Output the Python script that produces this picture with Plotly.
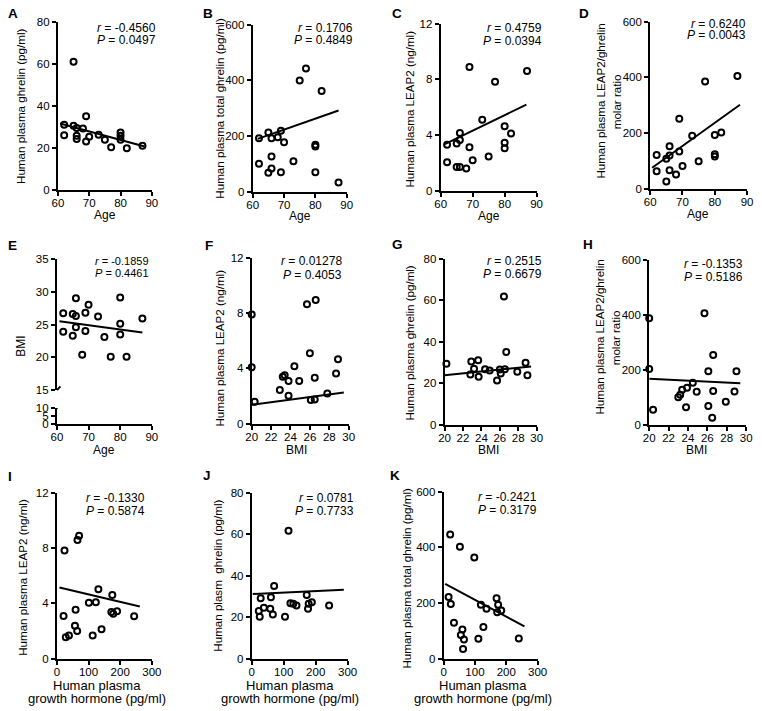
import plotly.graph_objects as go

# ---------------- data ----------------
# A: Age vs plasma ghrelin
age_A = [65, 62, 62, 65, 66, 66, 66, 68, 69, 69, 70, 73, 75, 77, 80, 80, 80, 82, 87]
ghrelin_A = [61, 31, 26, 30.5, 29.4, 25.8, 24.2, 29.2, 35, 23, 25.3, 26.2, 23.8, 20.3, 27.3, 25.8, 23.8, 19.8, 21]
fit_A_x = [60.7, 87.7]
fit_A_y = [31.6, 20.6]

# B: Age vs total ghrelin
age_B = [62, 62, 65, 65, 66, 66, 66, 68, 69, 69, 70, 73, 75, 77, 80, 80, 80, 82, 87.4]
total_B = [192, 101, 213, 68, 192, 127, 84, 196, 219, 70, 178, 110, 400, 443, 169, 163, 70, 362, 33]
fit_B_x = [61.6, 87.4]
fit_B_y = [190, 292]

# C: Age vs LEAP2
age_C = [62, 62, 65, 65, 66, 66, 66, 68, 69, 69, 70, 73, 75, 77, 80, 80, 80, 82, 87]
leap2_C = [3.3, 2.05, 3.4, 1.72, 3.65, 4.16, 1.72, 1.6, 8.9, 3.13, 2.19, 5.1, 2.47, 7.84, 4.64, 3.46, 3.06, 4.12, 8.6]
fit_C_x = [61.3, 86.8]
fit_C_y = [3.36, 6.19]

# D: Age vs LEAP2/ghrelin ratio
age_D = [62, 62, 65, 65, 66, 66, 66, 68, 69, 69, 70, 73, 75, 77, 80, 80, 80, 82, 87]
ratio_D = [122, 63, 26, 108, 120, 153, 67, 52, 252, 134, 82, 191, 99, 385, 193, 124, 116, 202, 405]
fit_D_x = [60.6, 87.8]
fit_D_y = [76, 302]

# E: Age vs BMI
age_E = [62, 62, 65, 65, 66, 66, 66, 68, 69, 69, 70, 73, 75, 77, 80, 80, 80, 82, 87]
bmi_E = [26.7, 23.9, 26.6, 23.3, 29, 26.3, 24.6, 20.4, 26.8, 24, 28, 26.2, 23.1, 20.1, 29.1, 25.1, 23.5, 20.1, 25.9]
fit_E_x = [60.8, 87]
fit_E_y = [25.5, 23.8]

# F: BMI vs LEAP2
bmi_F = [20.0, 20.0, 20.3, 22.9, 23.2, 23.4, 23.8, 23.8, 24.4, 24.9, 25.7, 26.0, 26.1, 26.5, 26.6, 26.5, 27.8, 28.7, 28.9]
leap2_F = [7.9, 4.08, 1.6, 2.45, 3.4, 3.5, 2.03, 3.09, 4.15, 3.09, 8.63, 5.1, 1.72, 1.75, 8.94, 3.33, 2.19, 3.63, 4.67]
fit_F_x = [20, 29.5]
fit_F_y = [1.37, 2.26]

# G: BMI vs ghrelin
bmi_G = [19.8, 20.2, 22.9, 22.8, 23.2, 23.65, 23.7, 24.4, 24.9, 25.7, 26.0, 26.1, 26.45, 26.55, 26.7, 27.9, 28.8, 29.0]
ghrelin_G = [20, 29.4, 30.5, 24.2, 27, 31.1, 23.1, 26.7, 26.1, 21.3, 26.6, 24.7, 61.8, 26.7, 35.1, 25.5, 29.9, 23.9]
fit_G_x = [20, 29.4]
fit_G_y = [23.9, 28.1]

# H: BMI vs LEAP2/ghrelin ratio
bmi_H = [20, 20, 20.4, 23.0, 23.2, 23.4, 23.8, 23.9, 24.5, 24.9, 25.7, 26.1, 26.1, 26.5, 26.6, 26.6, 27.9, 28.8, 29.0]
ratio_H = [387, 203, 55, 100, 109, 127, 64, 135, 153, 120, 405, 195, 68, 26, 123, 254, 84, 121, 195]
fit_H_x = [20, 29.4]
fit_H_y = [167, 150.6]

# I: growth hormone vs LEAP2
gh_I = [24, 21, 28, 38, 59, 57, 64, 65, 70, 101, 123, 131, 113, 141, 175, 172, 178, 190, 244]
leap2_I = [7.82, 3.09, 1.56, 1.68, 3.54, 2.39, 2.0, 8.58, 8.88, 4.04, 4.09, 5.03, 1.68, 2.13, 4.6, 3.38, 3.26, 3.43, 3.07]
fit_I_x = [8, 262]
fit_I_y = [5.15, 3.78]

# J: growth hormone vs ghrelin
gh_J = [22, 25, 28, 38, 58, 60, 66, 70, 104, 115, 121, 130, 140, 172, 176, 178, 188, 242]
ghrelin_J = [23, 20.2, 29.1, 24.6, 24.1, 29.6, 21.3, 35.1, 20.2, 61.6, 26.8, 26.5, 25.7, 30.7, 24.1, 26.5, 27.2, 25.7]
fit_J_x = [3, 288]
fit_J_y = [31.2, 33.2]

# K: growth hormone vs total ghrelin
gh_K = [21, 52, 98, 16, 23, 33, 60, 55, 65, 62, 111, 127, 119, 137, 169, 174, 171, 184, 240]
total_K = [446, 402, 364, 222, 197, 129, 105, 85, 69, 35, 72, 114, 194, 180, 217, 194, 167, 173, 73]
fit_K_x = [5, 258]
fit_K_y = [269, 116.5]

stats_r = ["-0.4560", "0.1706", "0.4759", "0.6240", "-0.1859", "0.01278", "0.2515", "-0.1353", "-0.1330", "0.0781", "-0.2421"]
stats_p = ["0.0497", "0.4849", "0.0394", "0.0043", "0.4461", "0.4053", "0.6679", "0.5186", "0.5874", "0.7733", "0.3179"]
letters = ["A", "B", "C", "D", "E", "F", "G", "H", "I", "J", "K"]

age_ticks = [60, 70, 80, 90]
bmi_ticks = [20, 22, 24, 26, 28, 30]
gh_ticks = [0, 100, 200, 300]

# ---------------- layout helpers ----------------
W, H = 762, 711
FONT = "Liberation Sans, Arial, sans-serif"


def px(x):
    return x / W


def py(y):
    return 1 - y / H


panels = [
    dict(x=age_A, y=ghrelin_A, fx=fit_A_x, fy=fit_A_y, xr=[60, 90], xt=age_ticks, yr=[0, 80], yt=[0, 20, 40, 60, 80],
         box=(53, 149, 16, 187), xtitle=["Age"], xtpos=(101, [213]), ytitle=["Human plasma ghrelin (pg/ml)"],
         ytpos=([15], 102), stat=(155, 22, 35, 12), letter=(7, 8)),
    dict(x=age_B, y=total_B, fx=fit_B_x, fy=fit_B_y, xr=[60, 90], xt=age_ticks, yr=[0, 600], yt=[0, 200, 400, 600],
         box=(252, 348, 19, 189), xtitle=["Age"], xtpos=(300, [214]), ytitle=["Human plasma total ghrelin (pg/ml)"],
         ytpos=([218], 104), stat=(356, 22, 35, 12), letter=(206, 8)),
    dict(x=age_C, y=leap2_C, fx=fit_C_x, fy=fit_C_y, xr=[60, 90], xt=age_ticks, yr=[0, 12], yt=[0, 4, 8, 12],
         box=(444, 542, 18, 188), xtitle=["Age"], xtpos=(493, [214]), ytitle=["Human plasma LEAP2 (ng/ml)"],
         ytpos=([412], 105), stat=(550, 22, 36, 12), letter=(399, 8)),
    dict(x=age_D, y=ratio_D, fx=fit_D_x, fy=fit_D_y, xr=[60, 90], xt=age_ticks, yr=[0, 600], yt=[0, 200, 400, 600],
         box=(658, 757, 16, 186), xtitle=["Age"], xtpos=(707, [212]),
         ytitle=["Human plasma LEAP2/ghrelin", "molar ratio"], ytpos=([607, 623], 97), stat=(758, 18, 30, 12),
         letter=(590, 8)),
    dict(x=age_E, y=bmi_E, fx=fit_E_x, fy=fit_E_y, xr=[60, 90], xt=age_ticks, yr=[15, 35], yt=[15, 20, 25, 30, 35],
         box=(52, 149, 257, 391), xtitle=["Age"], xtpos=(100, [452]), ytitle=["BMI"],
         ytpos=([15], 346), stat=(148, 259, 272, 11), letter=(7, 244)),
    dict(x=bmi_F, y=leap2_F, fx=fit_F_x, fy=fit_F_y, xr=[20, 30], xt=bmi_ticks, yr=[0, 12], yt=[0, 4, 8, 12],
         box=(251, 350, 256, 425), xtitle=["BMI"], xtpos=(297, [452]), ytitle=["Human plasma LEAP2 (ng/ml)"],
         ytpos=([218], 348), stat=(345, 259, 274, 12), letter=(207, 244)),
    dict(x=bmi_G, y=ghrelin_G, fx=fit_G_x, fy=fit_G_y, xr=[20, 30], xt=bmi_ticks, yr=[0, 80], yt=[0, 20, 40, 60, 80],
         box=(448, 542, 257, 426), xtitle=["BMI"], xtpos=(493, [452]), ytitle=["Human plasma ghrelin (pg/ml)"],
         ytpos=([412], 343), stat=(550, 259, 273, 12), letter=(400, 243)),
    dict(x=bmi_H, y=ratio_H, fx=fit_H_x, fy=fit_H_y, xr=[20, 30], xt=bmi_ticks, yr=[0, 600], yt=[0, 200, 400, 600],
         box=(657, 756, 258, 426), xtitle=["BMI"], xtpos=(705, [452]),
         ytitle=["Human plasma LEAP2/ghrelin", "molar ratio"], ytpos=([606, 622], 337), stat=(755, 262, 276, 12),
         letter=(594, 243)),
    dict(x=gh_I, y=leap2_I, fx=fit_I_x, fy=fit_I_y, xr=[0, 300], xt=gh_ticks, yr=[0, 12], yt=[0, 4, 8, 12],
         box=(52, 149, 495, 664), xtitle=["Human plasma", "growth hormone (pg/ml)"], xtpos=(93, [691, 704]),
         ytitle=["Human plasma LEAP2 (ng/ml)"], ytpos=([17], 581), stat=(144, 500, 514, 12), letter=(4, 479)),
    dict(x=gh_J, y=ghrelin_J, fx=fit_J_x, fy=fit_J_y, xr=[0, 300], xt=gh_ticks, yr=[0, 80], yt=[0, 20, 40, 60, 80],
         box=(251, 349, 495, 664), xtitle=["Human plasma", "growth hormone (pg/ml)"], xtpos=(290, [691, 704]),
         ytitle=["Human plasm  ghrelin (pg/ml)"], ytpos=([216], 579), stat=(357, 500, 514, 12), letter=(205, 478)),
    dict(x=gh_K, y=total_K, fx=fit_K_x, fy=fit_K_y, xr=[0, 300], xt=gh_ticks, yr=[0, 600], yt=[0, 200, 400, 600],
         box=(447, 543, 494, 664), xtitle=["Human plasma", "growth hormone (pg/ml)"], xtpos=(487, [691, 704]),
         ytitle=["Human plasma total ghrelin (pg/ml)"], ytpos=([409], 582), stat=(544, 499, 513, 12), letter=(397, 478)),
]

axis_style = dict(showline=True, linecolor="black", linewidth=2, ticks="outside", ticklen=4, tickwidth=2,
                  tickcolor="black", showgrid=False, zeroline=False, mirror=False,
                  tickfont=dict(size=11.5, color="black", family=FONT))

fig = go.Figure()
layout = {}
annotations = []
shapes = []

for i, p in enumerate(panels, start=1):
    xa = "x" if i == 1 else f"x{i}"
    ya = "y" if i == 1 else f"y{i}"
    xkey = "xaxis" if i == 1 else f"xaxis{i}"
    ykey = "yaxis" if i == 1 else f"yaxis{i}"
    x0, x1, y0, y1 = p["box"]

    fig.add_trace(go.Scatter(x=p["x"], y=p["y"], xaxis=xa, yaxis=ya, mode="markers", cliponaxis=False,
                             marker=dict(symbol="circle-open", size=6, color="black",
                                         line=dict(width=2, color="black")),
                             showlegend=False, hoverinfo="skip"))
    fig.add_trace(go.Scatter(x=p["fx"], y=p["fy"], xaxis=xa, yaxis=ya, mode="lines", cliponaxis=False,
                             line=dict(color="black", width=2), showlegend=False, hoverinfo="skip"))

    xanchor_axis = ya if i != 5 else "y12"
    layout[xkey] = dict(axis_style, domain=[px(x0), px(x1)], range=p["xr"], tickvals=p["xt"],
                        anchor=xanchor_axis, ticklabelstandoff=-3)
    layout[ykey] = dict(axis_style, domain=[py(y1), py(y0)], range=p["yr"], tickvals=p["yt"], anchor=xa)

    # r / P statistics
    sx, sy1, sy2, ssize = p["stat"]
    annotations.append(dict(text=f"<i>r</i> = {stats_r[i-1]}", x=px(sx), y=py(sy1), xref="paper", yref="paper",
                            xanchor="right", yanchor="middle", showarrow=False,
                            font=dict(size=ssize, color="black", family=FONT)))
    annotations.append(dict(text=f"<i>P</i> = {stats_p[i-1]}", x=px(sx), y=py(sy2), xref="paper", yref="paper",
                            xanchor="right", yanchor="middle", showarrow=False,
                            font=dict(size=ssize, color="black", family=FONT)))
    # panel letter
    lx, ly = p["letter"]
    annotations.append(dict(text=f"<b>{letters[i-1]}</b>", x=px(lx), y=py(ly), xref="paper", yref="paper",
                            xanchor="center", yanchor="middle", showarrow=False,
                            font=dict(size=13.5, color="black", family=FONT)))
    # x title
    tx, tys = p["xtpos"]
    xsize = 13 if len(p["xtitle"]) > 1 else 12
    for line, ty in zip(p["xtitle"], tys):
        annotations.append(dict(text=line, x=px(tx), y=py(ty), xref="paper", yref="paper",
                                xanchor="center", yanchor="middle", showarrow=False,
                                font=dict(size=xsize, color="black", family=FONT)))
    # y title
    txs, ty = p["ytpos"]
    ysize = 12 if p["ytitle"][0] == "BMI" else 11.6
    for line, tx in zip(p["ytitle"], txs):
        annotations.append(dict(text=line, x=px(tx), y=py(ty), xref="paper", yref="paper", textangle=-90,
                                xanchor="center", yanchor="middle", showarrow=False,
                                font=dict(size=ysize, color="black", family=FONT)))

# lower segment of the broken BMI axis (panel E)
layout["yaxis12"] = dict(axis_style, domain=[py(425), py(409)], range=[0, 10], tickvals=[0, 5, 10], anchor="x5")

# axis break marks on panel E
for yref, yval in (("y5", 15), ("y12", 10)):
    shapes.append(dict(type="line", xref="x5", yref=yref, xsizemode="pixel", ysizemode="pixel",
                       xanchor=60, yanchor=yval, x0=-4, x1=3.5, y0=-4, y1=4,
                       line=dict(color="black", width=2)))

layout.update(width=W, height=H, margin=dict(l=0, r=0, t=0, b=0), paper_bgcolor="white", plot_bgcolor="white",
              showlegend=False, annotations=annotations, shapes=shapes, font=dict(family=FONT, color="black"))
fig.update_layout(**layout)

fig.write_html("out.html", config={"displayModeBar": False, "staticPlot": True},
               post_script="document.body.style.margin='0px';document.body.style.overflow='hidden';")
